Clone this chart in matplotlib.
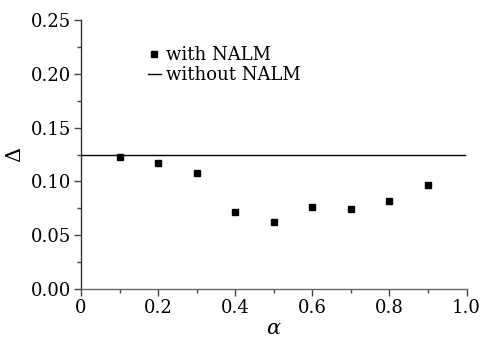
import matplotlib.pyplot as plt
import numpy as np

# data
alpha = [0.1, 0.2, 0.3, 0.4, 0.5, 0.6, 0.7, 0.8, 0.9]
delta_with = [0.123, 0.117, 0.108, 0.072, 0.062, 0.076, 0.074, 0.082, 0.097]
line_x = [0.0, 0.995]
delta_without = [0.125, 0.125]

plt.rcParams["font.family"] = ["DejaVu Serif"]
plt.rcParams["mathtext.fontset"] = "dejavuserif"

fig = plt.figure(figsize=(4.82, 3.41), dpi=100)
ax = fig.add_axes([0.168, 0.1525, 0.8, 0.7885])

ax.plot(alpha, delta_with, linestyle="none", marker="s", markersize=4,
        color="black", label="with NALM")
ax.plot(line_x, delta_without, color="black", linewidth=1.0,
        label="without NALM")

ax.set_xlim(0, 1.0)
ax.set_ylim(0, 0.25)
ax.set_xticks([0, 0.2, 0.4, 0.6, 0.8, 1.0])
ax.set_xticklabels(["0", "0.2", "0.4", "0.6", "0.8", "1.0"])
ax.set_xticks(np.arange(0.1, 1.0, 0.2), minor=True)
ax.set_yticks([0, 0.05, 0.10, 0.15, 0.20, 0.25])
ax.set_yticklabels(["0.00", "0.05", "0.10", "0.15", "0.20", "0.25"])
ax.set_yticks(np.arange(0.025, 0.25, 0.05), minor=True)

for s in ["top", "right"]:
    ax.spines[s].set_visible(False)
ax.spines["left"].set_color("#333333")
ax.spines["bottom"].set_color("#666666")
for s in ["left", "bottom"]:
    ax.spines[s].set_linewidth(1.0)

ax.tick_params(which="major", direction="out", length=5, width=1,
               color="#444444", labelsize=13, pad=2)
ax.tick_params(which="minor", direction="out", length=3, width=1,
               color="#444444")

ax.set_xlabel(r"$\alpha$", fontsize=15, labelpad=2)
ax.set_ylabel(r"$\Delta$", fontsize=15, labelpad=4)

ax.legend(loc="upper left", bbox_to_anchor=(0.155, 0.93), frameon=False,
          fontsize=13, handlelength=0.7, handletextpad=0.3,
          labelspacing=0.1, borderaxespad=0)

fig.savefig("out.png", dpi=100)
